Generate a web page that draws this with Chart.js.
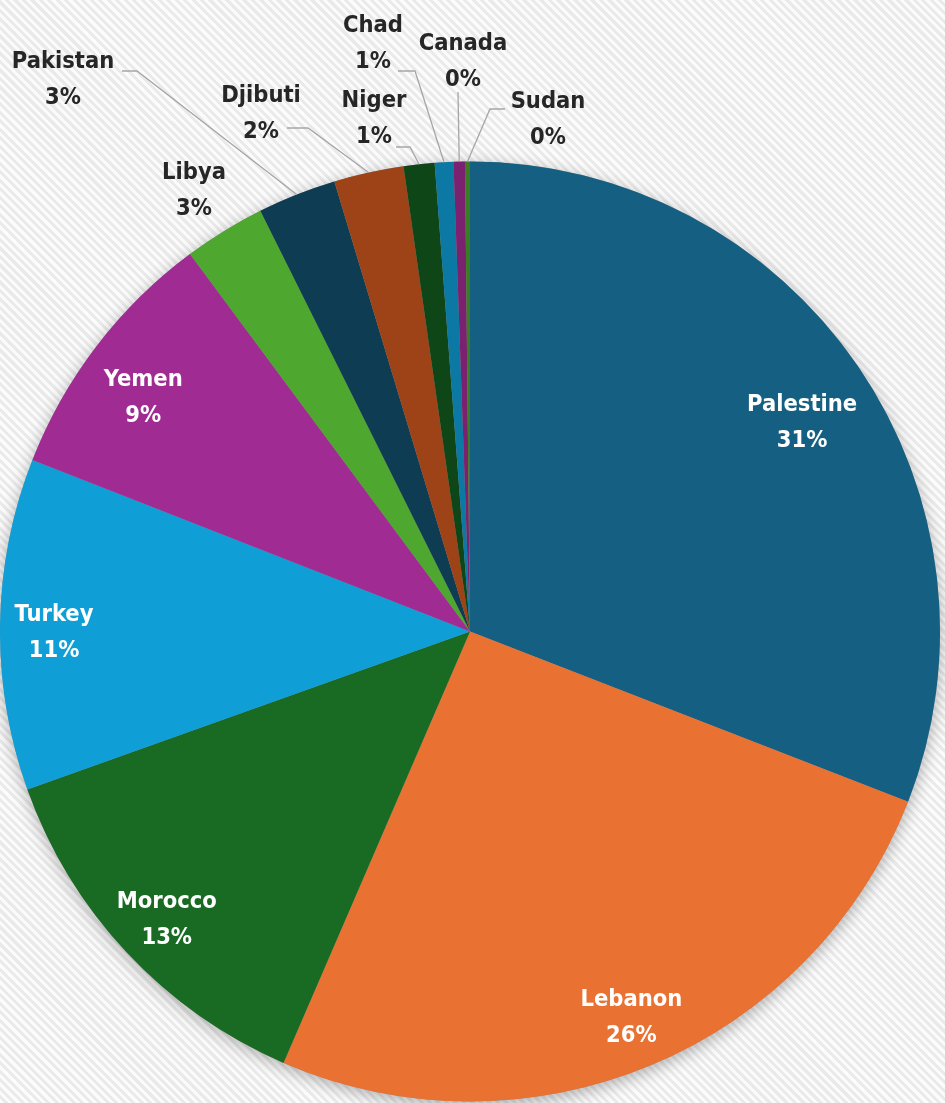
<!DOCTYPE html>
<html>
<head>
<meta charset="utf-8">
<script src="https://cdn.jsdelivr.net/npm/chart.js@4.4.1/dist/chart.umd.min.js"></script>
<style>
  html, body { margin: 0; padding: 0; }
  body {
    width: 945px;
    height: 1103px;
    overflow: hidden;
    background-color: #f1f1f1;
    background-image: repeating-linear-gradient(45deg, #fbfbfb 0px, #fbfbfb 3px, #eaeaea 3px, #eaeaea 6px);
  }
  canvas { display: block; }
</style>
</head>
<body>
<canvas id="countryPie" width="945" height="1103"></canvas>
<script>
/* ===============================
   DATA
   =============================== */
const countries = ["Palestine", "Lebanon", "Morocco", "Turkey", "Yemen", "Libya",
                   "Pakistan", "Djibuti", "Niger", "Chad", "Canada", "Sudan"];
const shares = [30.9, 25.6, 13.05, 11.4, 8.9, 2.8, 2.7, 2.4, 1.06, 0.64, 0.39, 0.17];

const sliceColors = ["#156082", "#E97132", "#196B24", "#0F9ED5", "#A02B93", "#4EA72E",
                     "#0E3C52", "#9E4318", "#0F4617", "#0C78A4", "#7A216F", "#3A7D22"];

/* ===============================
   LABEL LAYOUT
   =============================== */
// inside labels: fraction of the radius + small turn (degrees) from the slice middle
const insideLabels = {
  Palestine: { k: 0.835, turn: 2.2 },
  Lebanon:   { k: 0.89,  turn: 0 },
  Morocco:   { k: 0.89,  turn: -0.4 },
  Turkey:    { k: 0.885, turn: -1 },
  Yemen:     { k: 0.855, turn: -1.8 }
};

// outside labels: text position + leader line points (last point is the slice edge)
const outsideLabels = {
  Libya:    { x: 194, y: 173 },
  Pakistan: { x: 63,  y: 62,  leader: [[122, 71], [137, 71]] },
  Djibuti:  { x: 261, y: 96,  leader: [[287, 128], [308, 128]] },
  Niger:    { x: 374, y: 101, leader: [[396, 147], [410, 147]] },
  Chad:     { x: 373, y: 26,  leader: [[398, 71], [415, 71]] },
  Canada:   { x: 463, y: 44,  leader: [[458, 92]] },
  Sudan:    { x: 548, y: 102, leader: [[505, 109], [490, 109]] }
};

const labelFont = 'bold 23.5px "DejaVu Sans Condensed", "Liberation Sans Narrow", sans-serif';
const total = shares.reduce((a, b) => a + b, 0);

const pieShadow = {
  id: "pieShadow",
  beforeDatasetsDraw(chart) {
    const arc = chart.getDatasetMeta(0).data[0];
    if (!arc) return;
    const { x, y, outerRadius } = arc.getProps(["x", "y", "outerRadius"], true);
    const ctx = chart.ctx;
    ctx.save();
    ctx.shadowColor = "rgba(0,0,0,0.3)";
    ctx.shadowBlur = 16;
    ctx.shadowOffsetY = 4;
    ctx.fillStyle = "#999";
    ctx.beginPath();
    ctx.arc(x, y, outerRadius, 0, Math.PI * 2);
    ctx.fill();
    ctx.restore();
  }
};

const sliceLabels = {
  id: "sliceLabels",
  afterDatasetsDraw(chart) {
    const ctx = chart.ctx;
    const meta = chart.getDatasetMeta(0);
    ctx.save();
    ctx.font = labelFont;
    ctx.textAlign = "center";
    ctx.textBaseline = "middle";

    meta.data.forEach((arc, i) => {
      const name = countries[i];
      const pct = Math.round(shares[i] / total * 100) + "%";
      const { x, y, startAngle, endAngle, outerRadius } =
        arc.getProps(["x", "y", "startAngle", "endAngle", "outerRadius"], true);
      const mid = (startAngle + endAngle) / 2;

      const inside = insideLabels[name];
      if (inside) {
        const a = mid + inside.turn * Math.PI / 180;
        const px = x + Math.cos(a) * outerRadius * inside.k;
        const py = y + Math.sin(a) * outerRadius * inside.k;
        ctx.fillStyle = "#ffffff";
        ctx.fillText(name, px, py - 18);
        ctx.fillText(pct, px, py + 18);
        return;
      }

      const lab = outsideLabels[name];
      if (!lab) return;

      if (lab.leader) {
        ctx.strokeStyle = "#a6a6a6";
        ctx.lineWidth = 1.3;
        ctx.beginPath();
        ctx.moveTo(lab.leader[0][0], lab.leader[0][1]);
        lab.leader.slice(1).forEach(p => ctx.lineTo(p[0], p[1]));
        ctx.lineTo(x + Math.cos(mid) * outerRadius, y + Math.sin(mid) * outerRadius);
        ctx.stroke();
      }

      ctx.fillStyle = "#262626";
      ctx.fillText(name, lab.x, lab.y);
      ctx.fillText(pct, lab.x, lab.y + 36);
    });
    ctx.restore();
  }
};

new Chart(document.getElementById("countryPie").getContext("2d"), {
  type: "pie",
  data: {
    labels: countries,
    datasets: [{
      data: shares,
      backgroundColor: sliceColors,
      borderWidth: 0
    }]
  },
  options: {
    responsive: false,
    animation: false,
    layout: { padding: { top: 160, left: 0, right: 5, bottom: 0 } },
    plugins: {
      legend: { display: false },
      tooltip: { enabled: false }
    }
  },
  plugins: [pieShadow, sliceLabels]
});
</script>
</body>
</html>
